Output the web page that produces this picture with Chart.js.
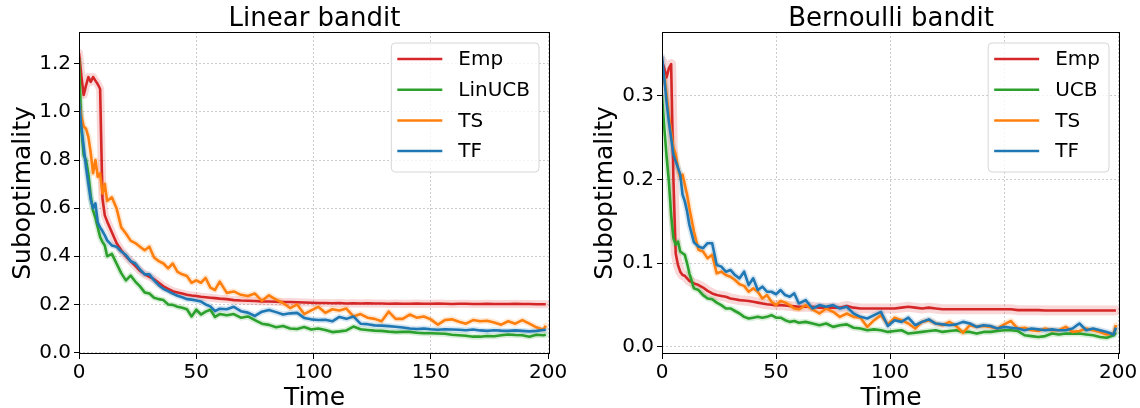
<!DOCTYPE html>
<html>
<head>
<meta charset="utf-8">
<script src="https://cdn.jsdelivr.net/npm/chart.js@4.4.0/dist/chart.umd.min.js"></script>
<style>
    body { margin: 0; background: #fff; }
    #quadro { position: relative; width: 1140px; height: 408px; }
    .painel { position: absolute; top: 0; width: 570px; height: 408px; }
</style>
</head>
<body>
<div id="quadro">
    <div class="painel" style="left:0"><canvas id="graficoLinear" width="570" height="408"></canvas></div>
    <div class="painel" style="left:570px"><canvas id="graficoBernoulli" width="570" height="408"></canvas></div>
</div>
<script>
// Eixo do tempo (mesmo para os dois gráficos)
const tempo = [0, 1, 2, 3, 4, 5, 6, 7, 8, 9, 10, 11, 12,
    14, 16, 18, 20, 22, 24, 26, 28, 30, 32, 34, 36, 38, 40, 42, 44, 46, 48, 50, 52, 54, 56, 58, 60,
    63, 66, 69, 72, 75, 78, 81, 84, 87, 90, 93, 96, 99, 102, 105, 108, 111, 114, 117, 120, 123, 126, 129,
    132, 135, 138, 141, 144, 147, 150, 153, 156, 159, 162, 165, 168, 171, 174, 177, 180, 183, 186, 189, 192, 195, 198,
    199];

const ticksX = [0, 50, 100, 150, 200];
const ticksYLinear = [0, 0.2, 0.4, 0.6, 0.8, 1.0, 1.2];
const ticksYBernoulli = [0, 0.1, 0.2, 0.3];

// LINEAR BANDIT
const linearEmp = [1.245, 1.15, 1.07, 1.11, 1.145, 1.125, 1.145, 1.13, 1.115, 1.095, 0.64, 0.57, 0.545,
    0.50, 0.455, 0.425, 0.40, 0.38, 0.36, 0.34, 0.325, 0.315, 0.305, 0.29, 0.275, 0.265, 0.255, 0.25, 0.245, 0.24, 0.237, 0.235, 0.232, 0.23, 0.228, 0.226, 0.224,
    0.222, 0.218, 0.216, 0.215, 0.214, 0.212, 0.212, 0.211, 0.21, 0.21, 0.209, 0.208, 0.207, 0.206, 0.206, 0.205, 0.206, 0.204, 0.205, 0.204, 0.205, 0.204, 0.204,
    0.203, 0.204, 0.203, 0.203, 0.204, 0.203, 0.203, 0.204, 0.203, 0.202, 0.203, 0.203, 0.202, 0.202, 0.203, 0.202, 0.202, 0.202, 0.203, 0.202, 0.202, 0.201, 0.201,
    0.201];
const linearLinUCB = [1.22, 0.93, 0.82, 0.80, 0.74, 0.65, 0.59, 0.56, 0.52, 0.48, 0.46, 0.445, 0.40,
    0.41, 0.37, 0.33, 0.30, 0.32, 0.295, 0.275, 0.25, 0.245, 0.228, 0.222, 0.218, 0.20, 0.198, 0.19, 0.186, 0.18, 0.15, 0.178, 0.158, 0.17, 0.178, 0.148, 0.16,
    0.155, 0.16, 0.145, 0.15, 0.135, 0.12, 0.115, 0.105, 0.11, 0.1, 0.098, 0.106, 0.096, 0.1, 0.094, 0.085, 0.088, 0.092, 0.108, 0.097, 0.094, 0.091, 0.09,
    0.087, 0.085, 0.086, 0.086, 0.082, 0.08, 0.08, 0.079, 0.078, 0.074, 0.072, 0.07, 0.066, 0.066, 0.069, 0.068, 0.072, 0.075, 0.073, 0.072, 0.066, 0.074, 0.072,
    0.074];
const linearTS = [1.04, 0.98, 0.94, 0.93, 0.895, 0.83, 0.745, 0.80, 0.73, 0.745, 0.66, 0.70, 0.63,
    0.645, 0.60, 0.52, 0.495, 0.465, 0.455, 0.44, 0.425, 0.44, 0.395, 0.38, 0.37, 0.35, 0.37, 0.335, 0.325, 0.318, 0.29, 0.30, 0.29, 0.31, 0.27, 0.26, 0.295,
    0.248, 0.254, 0.24, 0.235, 0.245, 0.215, 0.238, 0.22, 0.206, 0.185, 0.2, 0.16, 0.175, 0.19, 0.165, 0.18, 0.175, 0.183, 0.15, 0.16, 0.145, 0.14, 0.13,
    0.17, 0.14, 0.14, 0.158, 0.145, 0.15, 0.138, 0.116, 0.135, 0.138, 0.128, 0.12, 0.135, 0.13, 0.132, 0.125, 0.116, 0.13, 0.12, 0.135, 0.12, 0.105, 0.095,
    0.112];
const linearTF = [1.05, 0.94, 0.855, 0.77, 0.70, 0.635, 0.60, 0.62, 0.54, 0.52, 0.505, 0.487, 0.466,
    0.445, 0.44, 0.42, 0.405, 0.38, 0.37, 0.345, 0.325, 0.325, 0.30, 0.28, 0.265, 0.255, 0.245, 0.236, 0.23, 0.222, 0.22, 0.216, 0.212, 0.2, 0.192, 0.172, 0.182,
    0.18, 0.19, 0.172, 0.166, 0.152, 0.17, 0.177, 0.168, 0.158, 0.163, 0.165, 0.144, 0.138, 0.135, 0.136, 0.13, 0.148, 0.14, 0.15, 0.12, 0.118, 0.113, 0.112,
    0.11, 0.107, 0.104, 0.1, 0.098, 0.1, 0.097, 0.095, 0.097, 0.096, 0.095, 0.093, 0.096, 0.092, 0.09, 0.093, 0.091, 0.09, 0.092, 0.09, 0.088, 0.09, 0.094,
    0.095];

// BERNOULLI BANDIT
const bernoulliEmp = [0.342, 0.333, 0.322, 0.333, 0.338, 0.2, 0.112, 0.098, 0.09, 0.086, 0.085, 0.082, 0.079,
    0.076, 0.074, 0.071, 0.067, 0.064, 0.062, 0.061, 0.06, 0.058, 0.057, 0.056, 0.0555, 0.055, 0.054, 0.053, 0.052, 0.051, 0.0505, 0.05, 0.05, 0.0495, 0.049, 0.0485, 0.048,
    0.048, 0.048, 0.047, 0.047, 0.047, 0.047, 0.049, 0.047, 0.046, 0.046, 0.046, 0.046, 0.046, 0.046, 0.047, 0.048, 0.047, 0.046, 0.047, 0.046, 0.045, 0.045, 0.045,
    0.045, 0.045, 0.045, 0.045, 0.045, 0.045, 0.045, 0.045, 0.044, 0.044, 0.044, 0.044, 0.0435, 0.0435, 0.0435, 0.0435, 0.0435, 0.0435, 0.0435, 0.0435, 0.0435, 0.0435, 0.0435,
    0.0435];
const bernoulliUCB = [0.30, 0.262, 0.228, 0.198, 0.158, 0.13, 0.122, 0.126, 0.114, 0.112, 0.11, 0.1, 0.088,
    0.07, 0.068, 0.062, 0.058, 0.057, 0.053, 0.05, 0.046, 0.046, 0.043, 0.04, 0.036, 0.034, 0.035, 0.036, 0.035, 0.036, 0.038, 0.035, 0.035, 0.032, 0.03, 0.031, 0.029,
    0.03, 0.028, 0.026, 0.028, 0.024, 0.026, 0.027, 0.023, 0.022, 0.02, 0.021, 0.02, 0.018, 0.019, 0.02, 0.016, 0.017, 0.018, 0.019, 0.02, 0.018, 0.019, 0.02,
    0.018, 0.018, 0.016, 0.018, 0.018, 0.019, 0.02, 0.02, 0.019, 0.014, 0.013, 0.012, 0.013, 0.016, 0.015, 0.016, 0.016, 0.016, 0.015, 0.014, 0.012, 0.011, 0.014,
    0.017];
const bernoulliTS = [0.313, 0.325, 0.301, 0.277, 0.257, 0.238, 0.23, 0.214, 0.202, 0.206, 0.194, 0.182, 0.166,
    0.138, 0.116, 0.114, 0.106, 0.11, 0.088, 0.09, 0.086, 0.084, 0.08, 0.075, 0.073, 0.066, 0.07, 0.066, 0.058, 0.062, 0.054, 0.05, 0.055, 0.053, 0.05, 0.046, 0.045,
    0.05, 0.045, 0.04, 0.046, 0.042, 0.036, 0.04, 0.036, 0.035, 0.024, 0.032, 0.038, 0.027, 0.035, 0.032, 0.028, 0.022, 0.03, 0.032, 0.028, 0.026, 0.03, 0.025,
    0.017, 0.026, 0.024, 0.025, 0.024, 0.022, 0.027, 0.031, 0.022, 0.023, 0.02, 0.019, 0.022, 0.02, 0.02, 0.024, 0.018, 0.019, 0.022, 0.02, 0.018, 0.015, 0.016,
    0.026];
const bernoulliTF = [0.347, 0.321, 0.293, 0.269, 0.25, 0.23, 0.222, 0.214, 0.206, 0.182, 0.174, 0.162, 0.146,
    0.125, 0.12, 0.118, 0.124, 0.124, 0.098, 0.096, 0.09, 0.092, 0.086, 0.082, 0.09, 0.074, 0.082, 0.068, 0.072, 0.066, 0.066, 0.063, 0.068, 0.062, 0.06, 0.064, 0.052,
    0.056, 0.046, 0.05, 0.048, 0.05, 0.046, 0.048, 0.04, 0.036, 0.034, 0.038, 0.042, 0.025, 0.032, 0.03, 0.035, 0.026, 0.03, 0.033, 0.028, 0.027, 0.026, 0.027,
    0.03, 0.028, 0.024, 0.026, 0.025, 0.022, 0.024, 0.023, 0.022, 0.02, 0.022, 0.021, 0.02, 0.021, 0.02, 0.02, 0.022, 0.028, 0.02, 0.022, 0.02, 0.018, 0.015,
    0.023];

const FONTE = '"DejaVu Sans", sans-serif';

// desenha a caixa preta em volta da área do gráfico (estilo matplotlib)
const moldura = {
    id: 'moldura',
    afterDatasetsDraw(chart) {
        const { ctx, chartArea } = chart;
        ctx.save();
        ctx.strokeStyle = '#000';
        ctx.lineWidth = 1;
        ctx.strokeRect(Math.round(chartArea.left) + 0.5, Math.round(chartArea.top) + 0.5,
            Math.round(chartArea.right - chartArea.left) - 1, Math.round(chartArea.bottom - chartArea.top) - 1);
        ctx.restore();
    }
};

// título centralizado sobre a área do gráfico (e não sobre o canvas inteiro)
const tituloCentral = {
    id: 'tituloCentral',
    afterDraw(chart, args, opcoes) {
        const { ctx, chartArea } = chart;
        ctx.save();
        ctx.font = '26px ' + FONTE;
        ctx.fillStyle = '#000';
        ctx.textAlign = 'center';
        ctx.textBaseline = 'alphabetic';
        ctx.fillText(opcoes.texto, (chartArea.left + chartArea.right) / 2, 26);
        ctx.restore();
    }
};

// legenda dentro da área do gráfico, no canto superior direito
const legendaInterna = {
    id: 'legendaInterna',
    afterDraw(chart) {
        const { ctx, chartArea } = chart;
        const itens = chart.data.datasets.filter(d => !d.faixa);
        ctx.save();
        ctx.font = '20px ' + FONTE;
        const larguraTexto = Math.max(...itens.map(d => ctx.measureText(d.label).width));
        const largura = 6 + 45 + 16 + larguraTexto + 9;
        const altura = 129;
        const x0 = chartArea.right - 11 - largura;
        const y0 = chartArea.top + 11;
        const r = 4;

        ctx.beginPath();
        ctx.moveTo(x0 + r, y0);
        ctx.arcTo(x0 + largura, y0, x0 + largura, y0 + altura, r);
        ctx.arcTo(x0 + largura, y0 + altura, x0, y0 + altura, r);
        ctx.arcTo(x0, y0 + altura, x0, y0, r);
        ctx.arcTo(x0, y0, x0 + largura, y0, r);
        ctx.closePath();
        ctx.fillStyle = 'rgba(255,255,255,0.8)';
        ctx.fill();
        ctx.strokeStyle = '#d6d6d6';
        ctx.lineWidth = 1;
        ctx.stroke();

        itens.forEach((d, i) => {
            const yy = y0 + 16 + i * 30.7;
            ctx.beginPath();
            ctx.moveTo(x0 + 6, yy);
            ctx.lineTo(x0 + 51, yy);
            ctx.strokeStyle = d.borderColor;
            ctx.lineWidth = 2.5;
            ctx.stroke();
            ctx.fillStyle = '#000';
            ctx.textBaseline = 'middle';
            ctx.textAlign = 'left';
            ctx.fillText(d.label, x0 + 67, yy + 1);
        });
        ctx.restore();
    }
};

function montarGrafico(idCanvas, titulo, series, limitesY, ticksY, larguraEixoY, recuoTituloY) {
    const datasets = [];
    series.forEach((s, i) => {
        const pontos = tempo.map((t, k) => ({ x: t, y: s.valores[k] }));
        // linha principal
        datasets.push({
            label: s.nome,
            data: pontos,
            borderColor: s.cor,
            borderWidth: 2.6,
            pointRadius: 0,
            borderJoinStyle: 'round',
            tension: 0,
            order: series.length - i
        });
        // faixa de confiança (sombra clara atrás da linha)
        datasets.push({
            label: s.nome + ' faixa',
            faixa: true,
            data: pontos,
            borderColor: s.sombra,
            borderWidth: s.larguraSombra,
            borderJoinStyle: 'round',
            borderCapStyle: 'round',
            pointRadius: 0,
            tension: 0,
            order: 20 + series.length - i
        });
    });

    const config = {
        type: 'line',
        data: { datasets: datasets },
        options: {
            responsive: false,
            animation: false,
            events: [],
            layout: { padding: { left: 0, right: 20, top: 32, bottom: 0 } },
            plugins: {
                legend: { display: false },
                tooltip: { enabled: false },
                title: { display: false },
                tituloCentral: { texto: titulo }
            },
            scales: {
                x: {
                    type: 'linear',
                    min: 0,
                    max: 200.8,
                    afterBuildTicks: (escala) => { escala.ticks = ticksX.map(v => ({ value: v })); },
                    afterFit: (escala) => { escala.height = 54; },
                    grid: { color: '#cccccc', tickColor: '#000', tickLength: 5, tickBorderDash: [] },
                    border: { display: false, dash: [2, 2] },
                    ticks: {
                        color: '#000', padding: 2, maxRotation: 0,
                        font: { family: FONTE, size: 20 },
                        callback: (v) => String(v)
                    },
                    title: {
                        display: true, text: 'Time', color: '#000',
                        font: { family: FONTE, size: 25, lineHeight: 1 },
                        padding: { top: 0, bottom: -3 }
                    }
                },
                y: {
                    type: 'linear',
                    min: limitesY[0],
                    max: limitesY[1],
                    afterBuildTicks: (escala) => { escala.ticks = ticksY.map(v => ({ value: v })); },
                    afterFit: (escala) => { escala.width = larguraEixoY; },
                    grid: { color: '#cccccc', tickColor: '#000', tickLength: 5, tickBorderDash: [] },
                    border: { display: false, dash: [2, 2] },
                    ticks: {
                        color: '#000', padding: 3,
                        font: { family: FONTE, size: 20 },
                        callback: (v) => Number(v).toFixed(1)
                    },
                    title: {
                        display: true, text: 'Suboptimality', color: '#000',
                        font: { family: FONTE, size: 25 },
                        padding: { top: recuoTituloY, bottom: 0 }
                    }
                }
            }
        },
        plugins: [moldura, tituloCentral, legendaInterna]
    };

    return new Chart(document.getElementById(idCanvas), config);
}

montarGrafico('graficoLinear', 'Linear bandit', [
    { nome: 'Emp', valores: linearEmp, cor: '#d62728', sombra: 'rgba(214,39,40,0.18)', larguraSombra: 8 },
    { nome: 'LinUCB', valores: linearLinUCB, cor: '#2ca02c', sombra: 'rgba(44,160,44,0.18)', larguraSombra: 6 },
    { nome: 'TS', valores: linearTS, cor: '#ff7f0e', sombra: 'rgba(255,127,14,0.18)', larguraSombra: 6 },
    { nome: 'TF', valores: linearTF, cor: '#1f77b4', sombra: 'rgba(31,119,180,0.18)', larguraSombra: 6 }
], [-0.006, 1.332], ticksYLinear, 79, 8);

montarGrafico('graficoBernoulli', 'Bernoulli bandit', [
    { nome: 'Emp', valores: bernoulliEmp, cor: '#d62728', sombra: 'rgba(214,39,40,0.18)', larguraSombra: 10 },
    { nome: 'UCB', valores: bernoulliUCB, cor: '#2ca02c', sombra: 'rgba(44,160,44,0.18)', larguraSombra: 6 },
    { nome: 'TS', valores: bernoulliTS, cor: '#ff7f0e', sombra: 'rgba(255,127,14,0.18)', larguraSombra: 6 },
    { nome: 'TF', valores: bernoulliTF, cor: '#1f77b4', sombra: 'rgba(31,119,180,0.18)', larguraSombra: 6 }
], [-0.0084, 0.3764], ticksYBernoulli, 92, 20);
</script>
</body>
</html>
